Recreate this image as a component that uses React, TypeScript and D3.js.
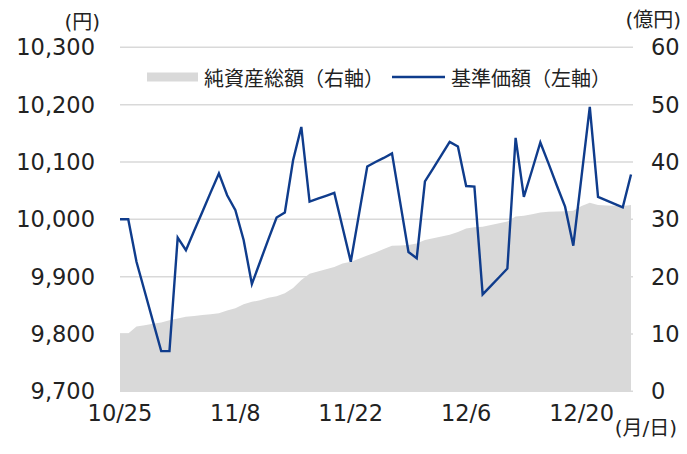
import React from "react";
import * as d3 from "d3";

const dates: string[] = [
  "10/25","10/26","10/27","10/28","10/29","10/30","10/31",
  "11/1","11/2","11/3","11/4","11/5","11/6","11/7","11/8","11/9","11/10",
  "11/11","11/12","11/13","11/14","11/15","11/16","11/17","11/18","11/19","11/20",
  "11/21","11/22","11/23","11/24","11/25","11/26","11/27","11/28","11/29","11/30",
  "12/1","12/2","12/3","12/4","12/5","12/6","12/7","12/8","12/9","12/10",
  "12/11","12/12","12/13","12/14","12/15","12/16","12/17","12/18","12/19","12/20",
  "12/21","12/22","12/23","12/24","12/25","12/26",
];

const navValues: number[] = [
  10000, 10000, 9926, 9874, 9822, 9770, 9770, 9968, 9946, 9980,
  10013, 10047, 10080, 10042, 10016, 9964, 9887, 9926, 9965, 10003,
  10012, 10103, 10161, 10031, 10036, 10041, 10046, 9986, 9926, 10009,
  10092, 10100, 10107, 10115, 10029, 9943, 9932, 10066, 10089, 10112,
  10135, 10127, 10058, 10057, 9869, 9884, 9899, 9914, 10142, 10039,
  10086, 10134, 10097, 10059, 10022, 9954, 10075, 10196, 10039, 10033,
  10027, 10021, 10078,
];

const assetValues: number[] = [
  10.1, 10.1, 11.3, 11.5, 11.8, 12.0, 12.4, 12.7, 13.0, 13.15,
  13.3, 13.45, 13.6, 14.1, 14.5, 15.2, 15.6, 15.9, 16.3, 16.6,
  17.1, 18.0, 19.4, 20.5, 20.9, 21.3, 21.7, 22.3, 22.6, 23.1,
  23.7, 24.2, 24.8, 25.4, 25.45, 25.5, 25.8, 26.4, 26.7, 27.0,
  27.3, 27.8, 28.4, 28.6, 28.7, 29.0, 29.3, 29.6, 30.5, 30.6,
  30.9, 31.2, 31.3, 31.35, 31.4, 31.5, 32.3, 32.9, 32.5, 32.4,
  32.35, 32.3, 32.5,
];

const leftTicks: number[] = [9700, 9800, 9900, 10000, 10100, 10200, 10300];
const rightTicks: number[] = [0, 10, 20, 30, 40, 50, 60];
const xTickLabels: string[] = ["10/25", "11/8", "11/22", "12/6", "12/20"];

const legendAsset = "純資産総額（右軸）";
const legendNav = "基準価額（左軸）";

const W = 687;
const H = 454;
const M = { left: 120, right: 631, top: 47.3, bottom: 391.3 };

const NUM_FONT = "'DejaVu Sans', 'Noto Sans CJK JP', sans-serif";
const CJK_FONT = "'Noto Sans CJK JP', sans-serif";
const TEXT = "#222";
const GRID = "#d9d9d9";
const AREA = "#d9d9d9";
const LINE = "#0f3c8c";

export default function App() {
  const x = d3.scaleLinear().domain([0, dates.length - 1]).range([M.left, M.right]);
  const yL = d3.scaleLinear().domain([9700, 10300]).range([M.bottom, M.top]);
  const yR = d3.scaleLinear().domain([0, 60]).range([M.bottom, M.top]);

  const idx = dates.map((_, i) => i);
  const area = d3
    .area<number>()
    .x((i) => x(i))
    .y0(yR(0))
    .y1((i) => yR(assetValues[i]));
  const line = d3
    .line<number>()
    .x((i) => x(i))
    .y((i) => yL(navValues[i]));

  const fmt = d3.format(",");

  return (
    <svg
      width={W}
      height={H}
      viewBox={`0 0 ${W} ${H}`}
      style={{ position: "absolute", left: 0, top: 0, background: "#fff" }}
    >
      <rect x={0} y={0} width={W} height={H} fill="#fff" />
      {leftTicks.map((t) => (
        <line
          key={"g" + t}
          x1={M.left}
          x2={M.right + 2}
          y1={yL(t)}
          y2={yL(t)}
          stroke={GRID}
          strokeWidth={1.5}
        />
      ))}
      <path d={area(idx) || ""} fill={AREA} />
      <path
        d={line(idx) || ""}
        fill="none"
        stroke={LINE}
        strokeWidth={2.4}
        strokeLinejoin="miter"
      />
      {leftTicks.map((t) => (
        <text
          key={"l" + t}
          x={95}
          y={yL(t)}
          textAnchor="end"
          dominantBaseline="central"
          fontFamily={NUM_FONT}
          fontSize={22.5}
          fill={TEXT}
        >
          {fmt(t)}
        </text>
      ))}
      {rightTicks.map((t) => (
        <text
          key={"r" + t}
          x={651}
          y={yR(t)}
          textAnchor="start"
          dominantBaseline="central"
          fontFamily={NUM_FONT}
          fontSize={22.5}
          fill={TEXT}
        >
          {t}
        </text>
      ))}
      {xTickLabels.map((lab) => (
        <text
          key={"x" + lab}
          x={x(dates.indexOf(lab))}
          y={413}
          textAnchor="middle"
          dominantBaseline="central"
          fontFamily={NUM_FONT}
          fontSize={22.5}
          fill={TEXT}
        >
          {lab}
        </text>
      ))}
      <text x={100} y={22} textAnchor="end" dominantBaseline="central" fontFamily={NUM_FONT} fontSize={20} fill={TEXT}>
        (円)
      </text>
      <text x={681} y={20} textAnchor="end" dominantBaseline="central" fontFamily={NUM_FONT} fontSize={20} fill={TEXT}>
        (億円)
      </text>
      <text x={677} y={428} textAnchor="end" dominantBaseline="central" fontFamily={NUM_FONT} fontSize={20} fill={TEXT}>
        (月/日)
      </text>
      <rect x={147} y={72.5} width={51} height={9} fill={AREA} />
      <text x={204} y={77} dominantBaseline="central" fontFamily={CJK_FONT} fontSize={20} fill={TEXT}>
        {legendAsset}
      </text>
      <line x1={392} x2={445} y1={77} y2={77} stroke={LINE} strokeWidth={2.3} />
      <text x={451} y={77} dominantBaseline="central" fontFamily={CJK_FONT} fontSize={20} fill={TEXT}>
        {legendNav}
      </text>
    </svg>
  );
}
